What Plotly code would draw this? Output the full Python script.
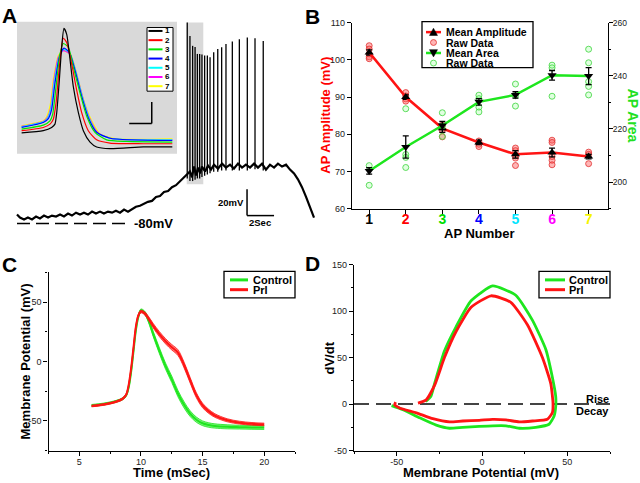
import plotly.graph_objects as go

W, H = 640, 483
FONT = "Liberation Sans, Arial, sans-serif"

# ---------------- Panel A: whole-cell trace (time s, membrane potential mV) ----------------
trace_t = [0.00, 0.22, 0.52, 0.81, 1.11, 1.41, 1.70, 2.00, 2.30, 2.59, 2.89, 3.19, 3.48, 3.78, 4.07,
           4.37, 4.67, 4.96, 5.26, 5.56, 5.85, 6.15, 6.44, 6.74, 7.04, 7.33, 7.63, 7.93, 8.22, 8.52,
           8.81, 9.11, 9.41, 9.70, 10.00, 10.30, 10.59, 10.89, 11.19, 11.48, 11.78, 12.07, 12.37,
           12.59, 12.81, 12.96, 13.11, 13.26, 13.41, 13.56, 13.70, 13.93, 14.15, 14.37, 14.59, 14.89,
           15.19, 15.48, 15.78, 16.07, 16.37, 16.67, 16.96, 17.26, 17.56, 17.85, 18.15, 18.44, 18.74,
           19.04, 19.33, 19.63, 19.93, 20.22, 20.52, 20.81, 21.11, 21.41, 21.63, 21.85, 22.00]
trace_v = [-73.3, -75.6, -77.0, -75.6, -77.0, -74.8, -76.3, -74.1, -75.6, -74.1, -74.8, -73.3, -74.8,
           -72.6, -74.1, -71.9, -73.3, -71.9, -73.3, -71.1, -72.6, -71.1, -72.6, -71.1, -71.9, -70.4,
           -71.9, -69.6, -71.1, -68.9, -67.4, -66.7, -65.2, -63.7, -63.0, -60.0, -59.3, -56.3, -55.5,
           -52.6, -51.1, -48.1, -45.2, -42.2, -40.7, -45.2, -37.0, -43.7, -37.8, -42.2, -37.0, -40.7,
           -36.3, -39.3, -35.6, -38.5, -34.8, -37.8, -35.6, -38.5, -34.8, -37.8, -35.6, -37.8, -34.8,
           -37.8, -34.8, -39.3, -35.6, -37.8, -34.8, -37.0, -35.6, -39.3, -42.2, -46.7, -52.6, -60.0,
           -65.9, -71.9, -75.6]
spike_t = [12.61, 12.81, 13.01, 13.19, 13.36, 13.53, 13.70, 13.90, 14.10, 14.30, 14.57, 14.87,
           15.16, 15.48, 15.95, 16.47, 17.06, 17.63, 18.24]
spike_peak = [71.9, 61.8, 54.3, 53.4, 48.2, 48.2, 47.7, 46.9, 46.9, 45.7, 49.4, 51.9, 53.2, 55.6,
              57.6, 59.3, 60.6, 60.0, 58.0]
spike_foot = [-46, -48, -48, -47, -46, -46, -45, -44, -43, -42, -41, -41, -40, -40, -40, -40, -40,
              -39, -40]

# ---------------- Panel A inset: APs 1-7 (time ms, mV) ----------------
ap_labels = ["1", "2", "3", "4", "5", "6", "7"]
ap_colors = ["#000000", "#ff0000", "#00e600", "#0000ff", "#00ffff", "#ff00ff", "#ffff00"]
ap1_t = [0.42, 2.39, 3.15, 3.45, 3.61, 3.85, 4.06, 4.27, 4.52, 4.76, 5.12, 5.58, 6.03, 6.64, 7.24, 8.45, 11.48, 14.12]
ap1_v = [-50.6, -48.5, -45.5, -42.4, -31.8, -1.5, 28.8, 46.4, 40.9, 22.7, -7.6, -31.8, -48.5, -59.1, -63.6, -65.2, -63.6, -63.6]
ap2_t = [0.42, 2.39, 3.0, 3.30, 3.55, 3.85, 4.21, 4.52, 4.97, 5.42, 5.88, 6.48, 7.24, 8.45, 11.48, 14.12]
ap2_v = [-48.5, -45.5, -42.4, -37.9, -22.7, 10.6, 37.3, 33.3, 13.6, -10.6, -31.8, -48.5, -57.0, -60.0, -60.6, -60.6]
ap3_t = [0.42, 2.39, 3.0, 3.24, 3.55, 3.91, 4.21, 4.67, 5.12, 5.73, 6.33, 7.09, 8.15, 9.97, 14.12]
ap3_v = [-47.0, -43.3, -39.4, -33.3, -7.6, 22.7, 32.4, 28.8, 10.6, -13.6, -34.8, -50.0, -57.0, -58.5, -59.1]
ap4_t = [0.42, 2.39, 2.85, 3.15, 3.45, 3.85, 4.27, 4.76, 5.27, 5.88, 6.48, 7.24, 8.45, 14.12]
ap4_v = [-45.5, -40.9, -37.3, -28.8, -4.5, 19.7, 28.2, 24.2, 7.6, -16.7, -36.4, -50.0, -55.5, -57.6]
ap5_t = [0.42, 2.39, 2.79, 3.09, 3.39, 3.82, 4.24, 4.79, 5.33, 5.97, 6.58, 7.30, 8.61, 14.12]
ap5_v = [-44.9, -40.3, -36.7, -27.9, -3.0, 19.7, 27.0, 23.6, 7.0, -18.2, -37.3, -50.6, -55.8, -57.0]
ap6_t = [0.42, 2.39, 2.76, 3.06, 3.36, 3.76, 4.21, 4.82, 5.36, 6.03, 6.64, 7.39, 8.76, 14.12]
ap6_v = [-44.5, -40.0, -36.4, -27.3, -1.5, 19.7, 25.8, 22.7, 6.1, -19.7, -37.9, -50.9, -56.1, -56.7]
ap7_t = [0.42, 2.39, 2.70, 3.0, 3.30, 3.76, 4.21, 4.88, 5.42, 6.09, 6.79, 7.55, 9.06, 14.12]
ap7_v = [-43.9, -39.4, -35.5, -25.8, -1.5, 21.2, 25.8, 22.1, 4.6, -21.2, -39.4, -51.5, -56.1, -56.1]

# ---------------- Panel B ----------------
ap_numbers = [1, 2, 3, 4, 5, 6, 7]
amp_mean = [102.0, 90.0, 81.6, 77.8, 74.6, 75.1, 74.0]
amp_err = [0.7, 0.6, 1.1, 0.6, 1.0, 1.2, 0.6]
amp_raw = [[103.8, 102.9, 101.6, 100.8, 100.3], [91.2, 90.3, 89.5, 88.9], [82.4, 81.0, 79.3],
           [78.2, 77.3, 76.7], [76.3, 75.6, 74.2, 73.6, 71.6], [78.4, 77.8, 74.0, 73.0, 71.8],
           [75.2, 74.6, 72.1]]
area_mean = [204.2, 213.2, 221.3, 230.2, 232.8, 240.2, 239.9]
area_err = [1.2, 4.2, 1.5, 1.2, 1.2, 1.8, 3.2]
area_raw = [[206.2, 198.8], [227.6, 210.4, 209.3, 205.5], [226.1, 221.0, 217.2],
            [232.7, 231.4, 228.2, 226.4], [236.9, 232.5, 228.6], [244.0, 243.0, 232.3],
            [250.0, 244.9, 237.8, 236.0, 232.8]]
tick_colors = ["#000000", "#ff0000", "#00dd00", "#0000ff", "#00e5ff", "#ff00ff", "#f5f500"]

# ---------------- Panel C ----------------
c_time = [6.0, 7.0, 8.0, 8.5, 8.8, 9.0, 9.2, 9.4, 9.6, 9.8, 10.0, 10.3, 10.6, 11.0, 11.5, 12.0,
          12.5, 13.0, 13.5, 14.0, 14.5, 15.0, 15.5, 16.0, 17.0, 18.0, 19.0, 20.0]
ctrl_mean = [-37.0, -35.8, -33.5, -31.5, -28.5, -22.0, -9.0, 9.0, 27.0, 38.0, 43.0, 41.0, 35.0, 23.0,
             9.0, -4.0, -15.0, -27.0, -36.5, -44.0, -49.0, -52.0, -53.5, -54.3, -55.0, -55.3, -55.5, -55.6]
ctrl_sem = [0.8, 0.8, 0.8, 0.9, 1.0, 1.2, 1.4, 1.5, 1.5, 1.4, 1.2, 1.4, 1.8, 2.2, 2.5, 2.6, 2.7, 2.7,
            2.6, 2.4, 2.2, 2.0, 1.9, 1.8, 1.7, 1.6, 1.6, 1.6]
prl_mean = [-37.5, -36.2, -33.8, -31.5, -28.0, -20.0, -6.0, 12.0, 30.0, 39.0, 42.0, 40.5, 36.5, 30.0,
            23.0, 17.0, 12.0, 7.5, -3.0, -16.0, -28.5, -37.0, -42.0, -45.5, -49.5, -51.5, -52.5, -53.0]
prl_sem = [0.7, 0.7, 0.7, 0.8, 0.9, 1.0, 1.2, 1.3, 1.3, 1.2, 1.1, 1.3, 1.6, 1.9, 2.1, 2.2, 2.3, 2.4,
           2.4, 2.3, 2.1, 1.9, 1.7, 1.5, 1.3, 1.2, 1.1, 1.1]

# ---------------- Panel D (phase plot) ----------------
ctrl_vm = [-33.0, -30.0, -27.8, -22.0, -15.2, -6.4, 6.2, 19.8, 29.6, 37.4, 41.2, 43.2, 43.2, 42.2,
           39.3, 31.5, 21.8, 14.0, 6.2, -1.6, -11.3, -19.0, -26.8, -36.6, -46.3, -53.0]
ctrl_dvdt = [2.8, 8.0, 22.0, 57.0, 83.0, 111.0, 127.0, 117.0, 90.0, 58.7, 29.0, 8.0, -2.4, -13.0,
             -21.7, -25.0, -26.0, -23.4, -23.4, -24.0, -25.0, -26.0, -22.7, -14.7, -6.0, -1.7]
prl_vm = [-37.5, -32.7, -27.8, -22.0, -15.2, -6.4, 5.3, 16.9, 26.7, 35.4, 40.3, 41.6, 41.2, 38.3,
          29.6, 21.8, 14.0, 6.2, -1.6, -11.3, -19.0, -28.8, -38.5, -48.3, -51.2, -50.6]
prl_dvdt = [1.0, 4.5, 20.0, 50.0, 78.0, 104.0, 116.4, 109.4, 85.0, 50.0, 22.0, 1.0, -9.4, -16.4,
            -18.2, -19.2, -17.0, -16.4, -17.5, -18.2, -19.2, -15.7, -9.4, -4.2, -0.7, 2.0]

GREEN = "#1ee61e"
RED = "#ff1414"


def fx(p):
    return p / W


def fy(p):
    return 1 - p / H


fig = go.Figure()

# ---- Panel A traces
fig.add_trace(go.Scatter(x=trace_t, y=trace_v, xaxis="x", yaxis="y", mode="lines",
                         line=dict(color="black", width=2.2), hoverinfo="skip"))
sx, sy = [], []
for t, f, p in zip(spike_t, spike_foot, spike_peak):
    sx += [t, t, None]
    sy += [f, p, None]
fig.add_trace(go.Scatter(x=sx, y=sy, xaxis="x", yaxis="y", mode="lines",
                         line=dict(color="black", width=1.3), hoverinfo="skip"))

ap_t = [ap1_t, ap2_t, ap3_t, ap4_t, ap5_t, ap6_t, ap7_t]
ap_v = [ap1_v, ap2_v, ap3_v, ap4_v, ap5_v, ap6_v, ap7_v]
for i in reversed(range(7)):
    fig.add_trace(go.Scatter(x=ap_t[i], y=ap_v[i], xaxis="x2", yaxis="y2", mode="lines",
                             line=dict(color=ap_colors[i], width=1.2, shape="spline", smoothing=0.6),
                             name=ap_labels[i], hoverinfo="skip"))

# ---- Panel B traces
rx, ry = [], []
for n, vals in zip(ap_numbers, amp_raw):
    rx += [n] * len(vals)
    ry += vals
gx, gy = [], []
for n, vals in zip(ap_numbers, area_raw):
    gx += [n] * len(vals)
    gy += vals
fig.add_trace(go.Scatter(x=rx, y=ry, xaxis="x3", yaxis="y3", mode="markers",
                         marker=dict(symbol="circle", size=6, color="rgba(255,90,90,0.45)",
                                     line=dict(color="rgba(225,50,50,0.8)", width=1))))
fig.add_trace(go.Scatter(x=ap_numbers, y=amp_mean, xaxis="x3", yaxis="y3", mode="lines+markers",
                         line=dict(color=RED, width=2.5),
                         marker=dict(symbol="triangle-up", size=8, color="black"),
                         error_y=dict(type="data", array=amp_err, color="black", thickness=1.3, width=3)))
fig.add_trace(go.Scatter(x=gx, y=gy, xaxis="x3", yaxis="y4", mode="markers",
                         marker=dict(symbol="circle", size=6, color="rgba(130,255,130,0.25)",
                                     line=dict(color="rgba(70,215,70,0.85)", width=1))))
fig.add_trace(go.Scatter(x=ap_numbers, y=area_mean, xaxis="x3", yaxis="y4", mode="lines+markers",
                         line=dict(color=GREEN, width=2.5),
                         marker=dict(symbol="triangle-down", size=8, color="black"),
                         error_y=dict(type="data", array=area_err, color="black", thickness=1.3, width=3)))

# ---- Panel C traces
for mean, sem, col, fill in [(ctrl_mean, ctrl_sem, GREEN, "rgba(30,230,30,0.55)"),
                             (prl_mean, prl_sem, RED, "rgba(255,20,20,0.55)")]:
    lo = [m - s for m, s in zip(mean, sem)]
    hi = [m + s for m, s in zip(mean, sem)]
    fig.add_trace(go.Scatter(x=c_time, y=lo, xaxis="x4", yaxis="y5", mode="lines",
                             line=dict(color=col, width=0.8, shape="spline")))
    fig.add_trace(go.Scatter(x=c_time, y=hi, xaxis="x4", yaxis="y5", mode="lines", fill="tonexty",
                             fillcolor=fill, line=dict(color=col, width=0.8, shape="spline")))
    fig.add_trace(go.Scatter(x=c_time, y=mean, xaxis="x4", yaxis="y5", mode="lines",
                             line=dict(color=col, width=2, shape="spline")))

# ---- Panel D traces
fig.add_trace(go.Scatter(x=ctrl_vm, y=ctrl_dvdt, xaxis="x5", yaxis="y6", mode="lines",
                         line=dict(color=GREEN, width=2.8, shape="spline", smoothing=0.5)))
fig.add_trace(go.Scatter(x=prl_vm, y=prl_dvdt, xaxis="x5", yaxis="y6", mode="lines",
                         line=dict(color=RED, width=2.8, shape="spline", smoothing=0.5)))


# ---- axes
def ax(**kw):
    d = dict(showline=True, linecolor="black", linewidth=1.3, ticks="outside", ticklen=4,
             tickwidth=1, tickcolor="black", tickfont=dict(family=FONT, size=9, color="#222"),
             showgrid=False, zeroline=False, fixedrange=True)
    d.update(kw)
    return d


hidden = dict(visible=False, showgrid=False, zeroline=False, fixedrange=True)
minor = lambda dt: dict(ticks="outside", ticklen=2, dtick=dt, tick0=0, tickcolor="black", showgrid=False)

layout = dict(
    width=W, height=H, margin=dict(l=0, r=0, t=0, b=0),
    paper_bgcolor="white", plot_bgcolor="rgba(0,0,0,0)", showlegend=False,
    font=dict(family=FONT, color="black"),
    xaxis=dict(domain=[0, fx(320)], range=[-1.259, 22.444], anchor="y", **hidden),
    yaxis=dict(domain=[fy(240), 1], range=[-92.59, 85.19], anchor="x", **hidden),
    xaxis2=dict(domain=[fx(17), fx(177)], range=[0, 14.545], anchor="y2", **hidden),
    yaxis2=dict(domain=[fy(152), fy(17)], range=[-70, 52.7], anchor="x2", **hidden),
    xaxis3=ax(domain=[fx(352), fx(608)], range=[0.53, 7.53], anchor="y3",
              tickvals=ap_numbers, ticklabelstandoff=-7,
              ticktext=[f"<b><span style='color:{c}'>{n}</span></b>" for n, c in zip(ap_numbers, tick_colors)],
              tickfont=dict(family=FONT, size=14, color="black")),
    yaxis3=ax(domain=[fy(208), fy(18)], range=[60, 110], anchor="x3", dtick=10, tick0=60),
    yaxis4=ax(overlaying="y3", side="right", anchor="x3", range=[190, 260], ticklabelstandoff=-2,
              tickfont=dict(family=FONT, size=8.5, color="#222"),
              tickvals=[200, 220, 240, 260], minor=minor(10)),
    xaxis4=ax(domain=[fx(48.5), fx(295)], range=[2.5, 22.5], anchor="y5", ticklabelstandoff=-2,
              tickvals=[5, 10, 15, 20], minor=minor(2.5)),
    yaxis5=ax(domain=[fy(455), fy(273)], range=[-75, 75], anchor="x4",
              tickvals=[-50, 0, 50], ticktext=["-50", "0", "50"], minor=minor(25)),
    xaxis5=ax(domain=[fx(354), fx(610)], range=[-75, 75], anchor="y6", ticklabelstandoff=-2,
              tickvals=[-50, 0, 50], ticktext=["-50", "0", "50"], minor=minor(25)),
    yaxis6=ax(domain=[fy(455), fy(265)], range=[-50, 150], anchor="x5",
              tickvals=[-50, 0, 50, 100, 150], ticktext=["-50", "0", "50", "100", "150"], minor=minor(25)),
)
fig.update_layout(**layout)

shapes = []
annotations = []


def ann(text, x, y, size, color="black", xanchor="center", yanchor="middle", angle=0, bold=True):
    annotations.append(dict(text=f"<b>{text}</b>" if bold else text, x=fx(x), y=fy(y), xref="paper",
                            yref="paper", showarrow=False, xanchor=xanchor, yanchor=yanchor,
                            borderpad=0, textangle=angle, font=dict(family=FONT, size=size, color=color)))


def pline(x0, x1, y, color, width=2.5):
    shapes.append(dict(type="line", xref="paper", yref="paper", x0=fx(x0), x1=fx(x1), y0=fy(y), y1=fy(y),
                       line=dict(color=color, width=width), layer="above"))


def pbox(x0, y0, x1, y1, width=1.3):
    shapes.append(dict(type="rect", xref="paper", yref="paper", x0=fx(x0), x1=fx(x1), y0=fy(y1), y1=fy(y0),
                       line=dict(color="black", width=width), fillcolor="white", layer="above"))


def tri(cx, cy, up=True, s=4.0):
    if up:
        pts = [(cx - s, cy + s * 0.85), (cx + s, cy + s * 0.85), (cx, cy - s)]
    else:
        pts = [(cx - s, cy - s * 0.85), (cx + s, cy - s * 0.85), (cx, cy + s)]
    path = "M " + " L ".join(f"{fx(a):.5f},{fy(b):.5f}" for a, b in pts) + " Z"
    shapes.append(dict(type="path", xref="paper", yref="paper", path=path, fillcolor="black",
                       line=dict(color="black", width=0.5), layer="above"))


def circ(cx, cy, fill, edge, r=3.0):
    shapes.append(dict(type="circle", xref="paper", yref="paper", x0=fx(cx - r), x1=fx(cx + r),
                       y0=fy(cy + r), y1=fy(cy - r), fillcolor=fill, line=dict(color=edge, width=1),
                       layer="above"))


# ---- Panel A decorations
shapes.append(dict(type="rect", xref="paper", yref="paper", x0=fx(17), x1=fx(177), y0=fy(152), y1=fy(17),
                   fillcolor="#d9d9d9", line=dict(width=0), layer="below"))
shapes.append(dict(type="rect", xref="x", yref="y", x0=12.57, x1=13.80, y0=-50.4, y1=71.9,
                   fillcolor="#d9d9d9", line=dict(width=0), layer="below"))
shapes.append(dict(type="line", xref="x", yref="y", x0=0, x1=8.0, y0=-80, y1=-80,
                   line=dict(color="black", width=1.5, dash="13px,6px")))
shapes.append(dict(type="line", xref="x", yref="y", x0=17.04, x1=17.04, y0=-54.1, y1=-74.1,
                   line=dict(color="black", width=1.5)))
shapes.append(dict(type="line", xref="x", yref="y", x0=17.04, x1=19.04, y0=-74.1, y1=-74.1,
                   line=dict(color="black", width=1.5)))
shapes.append(dict(type="line", xref="x2", yref="y2", x0=12.25, x1=12.25, y0=-21.8, y1=-41.8,
                   line=dict(color="black", width=1.5)))
shapes.append(dict(type="line", xref="x2", yref="y2", x0=10.2, x1=12.25, y0=-41.8, y1=-41.8,
                   line=dict(color="black", width=1.5)))
# inset legend
pbox(147, 23, 173, 88, width=1)
for i in range(7):
    yy = 26.5 + 9.4 * i
    pline(148.5, 162.5, yy, ap_colors[i], width=2)
    ann(ap_labels[i], 164, yy, 8, xanchor="left")

ann("A", 9, 11, 21)
ann("B", 312, 12, 21)
ann("C", 9, 265, 21)
ann("D", 312, 264, 21)
ann("-80mV", 133, 223, 13, xanchor="left")
ann("20mV", 245, 202, 9.5, xanchor="right")
ann("2Sec", 260, 222, 9.5)

# ---- Panel B decorations
ann("AP Amplitude (mV)", 326, 113, 13, color="#ff0000", angle=-90)
ann("AP Area", 633, 113, 14, color="#22e022", angle=90)
ann("AP Number", 479, 233, 13)
pbox(422, 17, 533, 64)
pline(426, 441, 27.7, RED)
tri(433.5, 27.7, up=True)
circ(433.5, 38.3, "rgba(255,90,90,0.45)", "rgba(225,50,50,0.8)")
pline(426, 441, 49, GREEN)
tri(433.5, 49, up=False)
circ(433.5, 59.3, "rgba(130,255,130,0.25)", "rgba(70,215,70,0.85)")
for txt, yy in [("Mean Amplitude", 27.7), ("Raw Data", 38.3), ("Mean Area", 49), ("Raw Data", 59.3)]:
    ann(txt, 445, yy, 10.5, xanchor="left")

# ---- Panel C decorations
ann("Membrane Potential (mV)", 25, 364, 13, angle=-90)
ann("Time (mSec)", 171, 477.5, 13)
pbox(224, 272, 295, 299)
pline(230, 248, 280.7, GREEN, width=3)
pline(230, 248, 290.7, RED, width=3)
ann("Control", 252, 280.7, 11, xanchor="left")
ann("Prl", 252, 290.7, 11, xanchor="left")

# ---- Panel D decorations
shapes.append(dict(type="line", xref="x5", yref="y6", x0=-75, x1=75, y0=0, y1=0,
                   line=dict(color="#444", width=2, dash="15px,7px"), layer="below"))
ann("dV/dt", 330, 361, 13, angle=-90)
ann("Membrane Potential (mV)", 481, 477.5, 13)
pbox(539, 272, 610, 299)
pline(545, 565, 280.7, GREEN, width=3)
pline(545, 565, 290.7, RED, width=3)
ann("Control", 567.5, 280.7, 11, xanchor="left")
ann("Prl", 567.5, 290.7, 11, xanchor="left")
ann("Rise", 610, 402, 11, xanchor="right")
ann("Decay", 610, 415, 11, xanchor="right")

fig.update_layout(shapes=shapes, annotations=annotations)
fig.write_html("out.html", config={"displayModeBar": False},
               post_script="document.body.style.margin='0';document.body.style.overflow='hidden';")
